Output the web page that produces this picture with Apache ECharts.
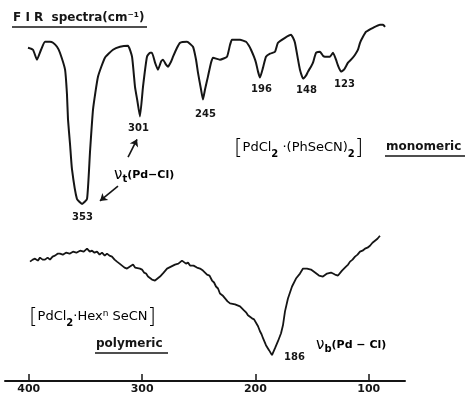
<!DOCTYPE html>
<html>
<head>
<meta charset="utf-8">
<script src="https://cdn.jsdelivr.net/npm/echarts@6/dist/echarts.min.js"></script>
<style>
html,body{margin:0;padding:0;background:#fff;}
#chart{width:466px;height:395px;}
</style>
</head>
<body>
<div id="chart"></div>
<script>
// wavenumber (cm-1) vs relative transmittance (arbitrary units)
var monomericSpectrum = [
[400.7,335],[396.3,333],[392.8,323],[389.2,333],[385.7,341],[381.3,341],[378.6,340],[375.1,336],
[372.5,330],[368.0,313],[366.3,288],[365.4,263],[363.6,238],[361.9,213],[357.5,183],[353.0,178],
[348.6,183],[346.0,230],[343.3,273],[338.9,306],[332.8,325],[325.7,333],[319.5,336],[312.5,337],
[308.9,326],[306.3,296],[304.1,281],[301.9,266],[299.2,296],[295.7,326],[293.0,330],[291.3,330],
[288.6,320],[286.0,313],[283.3,321],[281.6,323],[278.9,318],[277.2,316],[274.5,321],[272.7,326],
[269.2,335],[266.6,340],[260.4,341],[255.1,336],[252.4,323],[250.7,310],[248.0,293],[246.3,283],
[244.5,293],[241.9,306],[239.2,320],[237.4,325],[231.3,323],[225.1,326],[222.4,338],[220.7,343],
[213.6,343],[208.3,341],[205.7,337],[203.9,333],[201.3,326],[199.5,320],[197.7,311],[196.0,305],
[193.3,315],[190.7,326],[187.1,329],[182.7,331],[180.1,340],[173.9,345],[168.6,348],[166.8,345],
[165.1,340],[162.4,323],[160.7,313],[158.0,304],[155.4,307],[153.6,311],[151.0,316],[149.2,320],
[146.5,330],[143.0,331],[140.4,327],[138.6,326],[134.2,326],[131.5,330],[128.9,323],[127.1,317],
[124.5,311],[121.8,313],[118.3,320],[114.8,324],[112.1,328],[109.5,333],[107.7,340],[105.1,346],
[102.4,351],[96.2,355],[90.1,358],[87.4,358],[85.6,356]
];
var polymericSpectrum = [
[398.9,120],[396.5,122],[394.5,123],[392.0,121],[390.1,124],[387.8,122],[385.7,122],[383.4,124],
[381.3,122],[379.0,125],[376.9,126],[374.6,128],[372.5,128],[370.0,127],[367.2,129],[364.0,128],
[361.0,130],[358.0,129],[354.8,131],[351.5,130],[348.6,133],[346.2,130],[344.2,131],[342.0,129],
[339.8,130],[337.5,127],[335.4,129],[333.0,126],[331.0,128],[328.8,126],[326.6,125],[324.3,122],
[322.2,120],[319.9,118],[317.7,116],[315.5,114],[313.3,113],[310.7,115],[308.0,117],[306.2,114],
[304.5,115],[301.9,113],[300.1,112],[298.3,109],[296.5,108],[294.8,105],[291.3,102],[288.6,101],
[286.4,103],[284.2,105],[281.0,109],[278.0,113],[274.5,115],[271.0,117],[268.0,118],[264.8,121],
[261.3,118],[259.5,119],[257.7,116],[254.6,116],[251.6,114],[248.9,113],[246.3,111],[242.7,107],
[240.5,106],[238.3,101],[236.5,99],[234.8,95],[233.0,93],[231.3,88],[229.0,86],[226.8,83],
[224.6,80],[222.4,78],[218.0,77],[215.8,76],[213.6,75],[210.1,71],[208.3,69],[206.6,66],
[203.0,63],[201.2,62],[199.5,60],[197.7,55],[196.0,50],[194.6,47],[193.3,43],[190.7,36],
[188.0,31],[185.4,26],[182.7,33],[180.1,40],[177.4,48],[175.7,56],[173.9,70],[171.3,83],
[167.7,95],[164.2,103],[160.7,108],[158.0,113],[154.5,113],[151.0,112],[147.4,109],[143.9,106],
[140.4,105],[136.8,108],[133.3,109],[129.8,107],[127.1,106],[123.6,111],[120.1,115],[118.2,117],
[116.5,120],[114.3,122],[112.1,125],[109.9,127],[107.7,130],[105.5,131],[103.3,133],[101.1,134],
[98.9,136],[96.7,139],[94.5,141],[92.3,143],[90.1,146]
];
var tickValues = [400, 300, 200, 100];
var peakLabels = ['353', '301', '245', '196', '148', '123', '186'];

var chart = echarts.init(document.getElementById('chart'), null, {renderer: 'canvas'});
var FONT = 'DejaVu Sans';
var ink = '#151515';

function txt(x, y, text, size, weight, rich) {
  return {
    type: 'text', left: x, top: y, z: 10,
    style: {
      text: text, fill: ink, font: (weight || 'normal') + ' ' + size + 'px "' + FONT + '"',
      rich: rich
    }
  };
}
function uline(x1, x2, y) {
  return {type: 'line', shape: {x1: x1, y1: y, x2: x2, y2: y}, style: {stroke: ink, lineWidth: 1.5}, z: 10};
}
var subRich = {
  n: {fontFamily: FONT, fontSize: 13, color: ink, lineHeight: 22, verticalAlign: 'middle'},
  s: {fontFamily: FONT, fontSize: 10, fontWeight: 'bold', color: ink, lineHeight: 22, verticalAlign: 'bottom', padding: [0, 0, 0, 0]},
  b: {fontFamily: FONT, fontSize: 22, fontWeight: 'lighter', color: ink, lineHeight: 22, verticalAlign: 'middle'}
};
var nuRich = {
  v: {fontFamily: FONT, fontSize: 15, color: ink, lineHeight: 18, verticalAlign: 'middle'},
  s: {fontFamily: FONT, fontSize: 10, fontWeight: 'bold', color: ink, lineHeight: 18, verticalAlign: 'bottom'},
  n: {fontFamily: FONT, fontSize: 11, fontWeight: 'bold', color: ink, lineHeight: 18, verticalAlign: 'middle'}
};

var option = {
  animation: false,
  backgroundColor: '#fff',
  grid: {left: 5, right: 61, top: 0, bottom: 12, containLabel: false},
  xAxis: {
    type: 'value', inverse: true, min: 68, max: 421,
    axisLine: {show: true, lineStyle: {color: ink, width: 2}},
    axisTick: {show: true, inside: true, length: 7, customValues: tickValues, lineStyle: {color: ink, width: 1.5}},
    axisLabel: {show: true, customValues: tickValues, margin: 3, color: ink, fontFamily: FONT, fontSize: 11, fontWeight: 'bold'},
    splitLine: {show: false}
  },
  yAxis: {type: 'value', min: 0, max: 383, show: false, splitLine: {show: false}},
  series: [
    {
      type: 'line', data: monomericSpectrum, showSymbol: false, symbol: 'none',
      lineStyle: {color: ink, width: 2}, smooth: 0.15,
      markLine: {
        silent: true, symbol: ['none', 'arrow'], symbolSize: 7,
        label: {show: false},
        lineStyle: {color: ink, width: 1.6, type: 'solid'},
        data: [
          [{coord: [312.4, 225], lineStyle: {curveness: 0.1}}, {coord: [304.5, 243]}],
          [{coord: [321.3, 196], lineStyle: {curveness: -0.35}}, {coord: [337.2, 181]}]
        ]
      }
    },
    {
      type: 'line', data: polymericSpectrum, showSymbol: false, symbol: 'none',
      lineStyle: {color: ink, width: 1.8}
    }
  ],
  graphic: [
    txt(13, 12, 'F I R  spectra(cm⁻¹)', 12, 'bold'),
    uline(12, 147, 27),
    txt(72, 212, peakLabels[0], 10, 'bold'),
    txt(128, 123, peakLabels[1], 10, 'bold'),
    txt(195, 109, peakLabels[2], 10, 'bold'),
    txt(251, 84, peakLabels[3], 10, 'bold'),
    txt(296, 85, peakLabels[4], 10, 'bold'),
    txt(334, 79, peakLabels[5], 10, 'bold'),
    txt(284, 352, peakLabels[6], 10, 'bold'),
    {type: 'text', left: 114, top: 168, z: 10, style: {text: '{v|ν}{s|t}{n|(Pd−Cl)}', rich: nuRich}},
    {type: 'text', left: 316, top: 338, z: 10, style: {text: '{v|ν}{s|b}{n|(Pd − Cl)}', rich: nuRich}},
    {type: 'text', left: 234, top: 137, z: 10, style: {text: '{b|[}{n|PdCl}{s|2}{n| ·(PhSeCN)}{s|2}{b|]}', rich: subRich}},
    txt(386, 141, 'monomeric', 12, 'bold'),
    uline(385, 465, 156),
    {type: 'text', left: 29, top: 306, z: 10, style: {text: '{b|[}{n|PdCl}{s|2}{n|·Hex}{p|n}{n| SeCN}{b|]}', rich: Object.assign({}, subRich, {
      p: {fontFamily: FONT, fontSize: 9, color: ink, lineHeight: 22, verticalAlign: 'top', padding: [3, 0, 0, 0]}
    })}},
    txt(96, 338, 'polymeric', 12, 'bold'),
    uline(95, 168, 353)
  ]
};
chart.setOption(option);
</script>
</body>
</html>
